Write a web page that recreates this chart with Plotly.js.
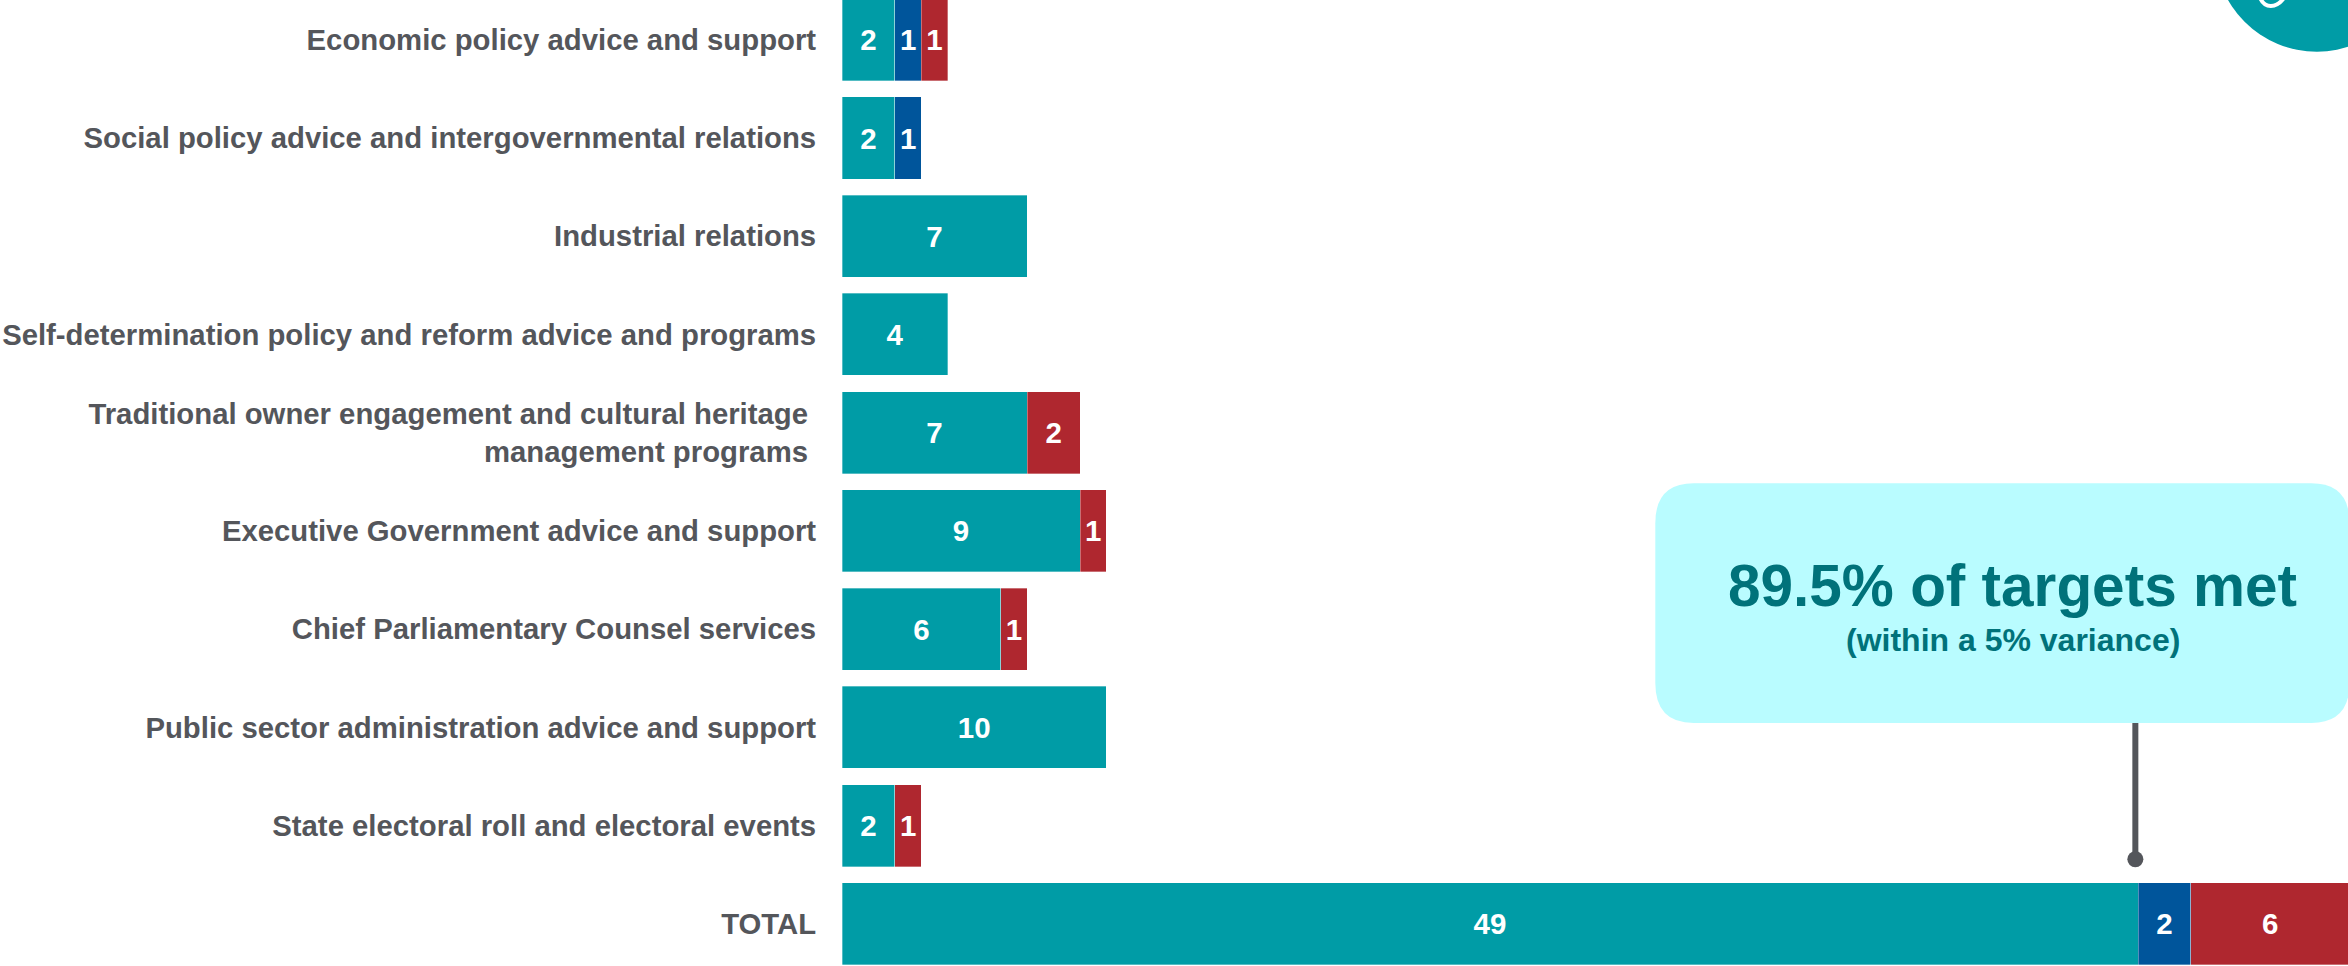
<!DOCTYPE html>
<html>
<head>
<meta charset="utf-8">
<script src="https://cdn.plot.ly/plotly-3.0.1.min.js"></script>
<style>html,body{margin:0;padding:0;background:#fff;overflow:hidden}#chart{width:2348px;height:966px}</style>
</head>
<body>
<div id="chart"></div>
<script>
// Output categories, top to bottom
const categories = [
  "Economic policy advice and support",
  "Social policy advice and intergovernmental relations",
  "Industrial relations",
  "Self-determination policy and reform advice and programs",
  "Traditional owner engagement and cultural heritage\u00a0<br>management programs\u00a0",
  "Executive Government advice and support",
  "Chief Parliamentary Counsel services",
  "Public sector administration advice and support",
  "State electoral roll and electoral events",
  "TOTAL"
];
// Number of targets per category; null where a segment is absent
const metTargets    = [2, 2, 7, 4, 7, 9, 6, 10, 2, 49];
const withinFive    = [1, 1, null, null, null, null, null, null, null, 2];
const missedTargets = [1, null, null, null, 2, 1, 1, null, 1, 6];

const TEAL = "#009ca6", BLUE = "#00559b", RED = "#af272f";
const SLATE = "#54565b", DEEP_TEAL = "#00727a", PALE = "#b9fcff";
const FONT = "'Liberation Sans', Arial, sans-serif";

function segment(name, values, colour) {
  return {
    type: "bar", orientation: "h", name,
    y: categories, x: values,
    marker: {color: colour, line: {width: 0.6, color: "rgba(255,255,255,0.55)"}},
    width: 0.835,
    text: values.map(v => v === null ? "" : String(v)),
    textposition: "inside",
    insidetextanchor: "middle",
    textangle: 0,
    constraintext: "none",
    insidetextfont: {family: FONT, size: 29.5, color: "#ffffff", weight: 700},
    hoverinfo: "y+x+name"
  };
}

const traces = [
  segment("Met", metTargets, TEAL),
  segment("Within 5%", withinFive, BLUE),
  segment("Missed", missedTargets, RED)
];

// Rounded panel; x in data units, y in paper fractions (y0 above y1)
function calloutPath(x0, x1, y0, y1, rx, ry) {
  return `M${x0 + rx},${y0} L${x1 - rx},${y0} Q${x1},${y0} ${x1},${y0 - ry}` +
         ` L${x1},${y1 + ry} Q${x1},${y1} ${x1 - rx},${y1} L${x0 + rx},${y1}` +
         ` Q${x0},${y1} ${x0},${y1 + ry} L${x0},${y0 - ry} Q${x0},${y0} ${x0 + rx},${y0} Z`;
}

const LEADER_X = 48.9, DOT_Y = 0.1105;

const layout = {
  width: 2348, height: 966,
  margin: {l: 842, r: 0, t: 0, b: 0, pad: 0},
  paper_bgcolor: "#ffffff", plot_bgcolor: "#ffffff",
  barmode: "stack",
  showlegend: false,
  xaxis: {range: [0, 56.94], visible: false, fixedrange: true},
  yaxis: {
    type: "category",
    range: [9.43, -0.405],
    automargin: false,
    showgrid: false, zeroline: false, showline: false,
    ticks: "outside", ticklen: 19, tickcolor: "rgba(0,0,0,0)", tickwidth: 0,
    tickfont: {family: FONT, size: 29.3, color: SLATE, weight: 700},
    fixedrange: true
  },
  shapes: [
    // Badge cropped by the top of the page
    {type: "circle", xref: "paper", yref: "paper", layer: "above",
     x0: 0.9114, x1: 1.0474, y0: 1.1585, y1: 0.9465,
     fillcolor: TEAL, line: {width: 0}},
    // Lower edge of the white glyph inside the badge
    {type: "path", xref: "paper", yref: "paper", layer: "above",
     path: "M0.9420,1.001 C0.9450,0.9915 0.9520,0.9915 0.9570,1.001",
     line: {color: "#ffffff", width: 4}},
    // Callout panel
    {type: "path", xref: "x", yref: "paper", layer: "below",
     path: calloutPath(30.75, 57, 0.4997, 0.2516, 1.45, 0.0414),
     fillcolor: PALE, line: {width: 0}},
    // Leader line to the end of the met segment, with its end dot
    {type: "line", xref: "x", yref: "paper", x0: LEADER_X, x1: LEADER_X, y0: 0.2516, y1: DOT_Y,
     line: {color: SLATE, width: 6}},
    {type: "circle", xref: "x", yref: "paper",
     xsizemode: "pixel", ysizemode: "pixel", xanchor: LEADER_X, yanchor: DOT_Y,
     x0: -8, x1: 8, y0: -8, y1: 8,
     fillcolor: SLATE, line: {width: 0}}
  ],
  annotations: [
    {xref: "x", yref: "paper", x: 44.27, y: 0.3934, text: "<b>89.5% of targets met</b>",
     showarrow: false, font: {family: FONT, size: 58.5, color: DEEP_TEAL}, xanchor: "center", yanchor: "middle"},
    {xref: "x", yref: "paper", x: 44.27, y: 0.3375, text: "<b>(within a 5% variance)</b>",
     showarrow: false, font: {family: FONT, size: 32, color: DEEP_TEAL}, xanchor: "center", yanchor: "middle"}
  ]
};

Plotly.newPlot("chart", traces, layout, {displayModeBar: false, responsive: false});
</script>
</body>
</html>
